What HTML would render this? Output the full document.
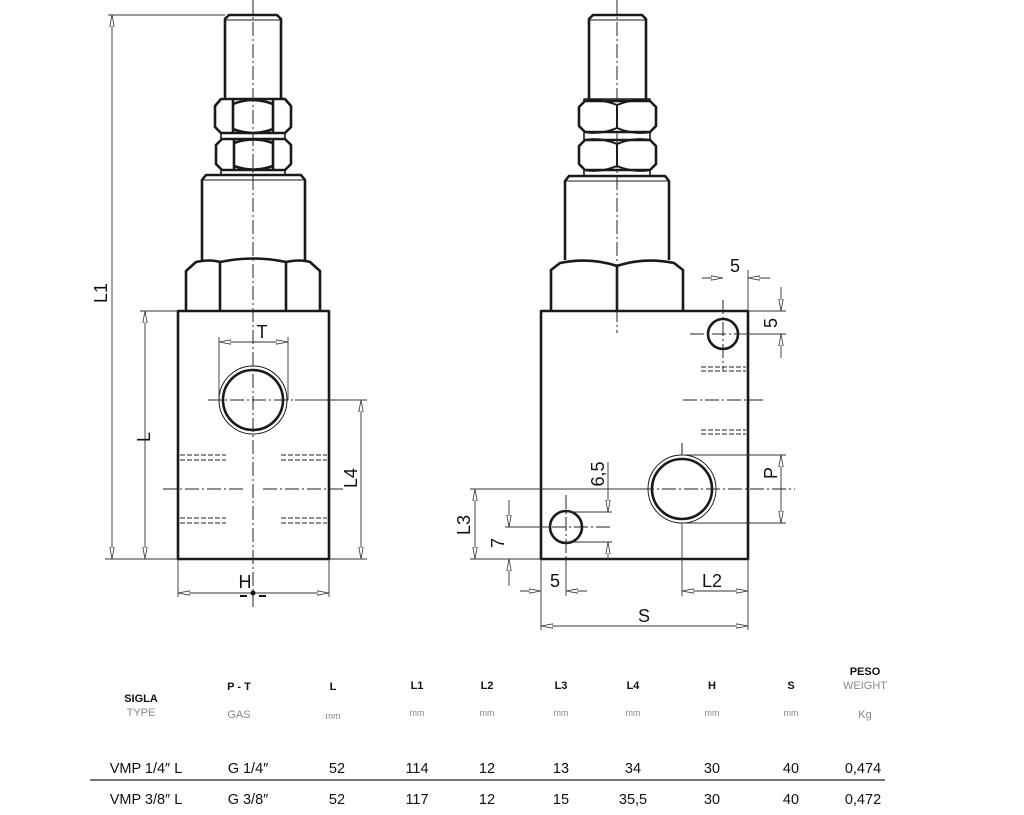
<!DOCTYPE html>
<html><head><meta charset="utf-8"><style>
html,body{margin:0;padding:0;background:#fff;width:1024px;height:815px;overflow:hidden}
svg{display:block}
text{font-family:"Liberation Sans Narrow","Liberation Sans",sans-serif}
</style></head><body>
<svg width="1024" height="815" viewBox="0 0 1024 815" xmlns="http://www.w3.org/2000/svg">
<defs>
<marker id="a" viewBox="0 0 12 6" refX="12" refY="3" markerWidth="12" markerHeight="6" orient="auto-start-reverse" markerUnits="userSpaceOnUse"><path d="M0,0.8 L12,3 L0,5.2 Z" fill="#fff" stroke="#333" stroke-width="0.8"/></marker>
</defs>
<g fill="none" stroke="#1a1a1a" stroke-width="2.6" stroke-linejoin="round">
<!-- LEFT VIEW -->
<path d="M225,99 V19 L229,15 H277 L281,19 V99"/>
<line x1="226" y1="20" x2="280" y2="20" stroke-width="1"/>
<path d="M221,99 H285 L291,106 V127 L285,133 H221 L215,127 V106 Z"/>
<line x1="233" y1="100" x2="233" y2="132"/><line x1="273" y1="100" x2="273" y2="132"/>
<path d="M233,104 Q253,96 273,104 M233,129 Q253,137 273,129"/>
<rect x="221" y="133" width="64" height="6" stroke-width="1.6"/>
<path d="M222,139 H285 L291,145 V164 L285,170 H222 L216,164 V145 Z"/>
<line x1="234" y1="140" x2="234" y2="169"/><line x1="273" y1="140" x2="273" y2="169"/>
<path d="M234,143 Q253,136 273,143 M234,166 Q253,173 273,166"/>
<rect x="221" y="170" width="64" height="5" stroke-width="1.6"/>
<path d="M202,260 V180 L206,175 H301 L305,180 V260"/>
<line x1="203" y1="180" x2="304" y2="180" stroke-width="1"/>
<path d="M186,311 V271 L196,262 Q210,259 220,262 Q253,255 286,262 Q300,259 310,262 L320,271 V311"/>
<line x1="220" y1="262" x2="220" y2="311"/><line x1="286" y1="262" x2="286" y2="311"/>
<rect x="178" y="311" width="151" height="248"/>
<circle cx="253" cy="400" r="30"/>
<circle cx="253" cy="400" r="34" stroke-width="1"/>
<!-- RIGHT VIEW -->
<path d="M589,99 V19 L593,15 H642 L646,19 V99"/>
<line x1="590" y1="20" x2="645" y2="20" stroke-width="1"/>
<rect x="584" y="99" width="66" height="77" stroke-width="1.6"/>
<path d="M585,101 H650 L656,107 V126 L650,132 H585 L579,126 V107 Z" fill="#fff"/>
<path d="M585,101 Q600,98 617,105 Q634,98 650,101 M585,132 Q600,135 617,128 Q634,135 650,132 M617,105 V128" stroke-width="2"/>
<path d="M585,140 H650 L656,146 V164 L650,170 H585 L579,164 V146 Z" fill="#fff"/>
<path d="M585,140 Q600,137 617,144 Q634,137 650,140 M585,170 Q600,173 617,166 Q634,173 650,170 M617,144 V166" stroke-width="2"/>
<path d="M565,260 V181 L569,176 H665 L669,181 V260"/>
<line x1="566" y1="181" x2="668" y2="181" stroke-width="1"/>
<path d="M551,311 V270 L560,263 Q590,257 617,266 Q644,257 674,263 L683,270 V311"/>
<line x1="617" y1="266" x2="617" y2="311"/>
<rect x="541" y="311" width="207" height="248"/>
<circle cx="723" cy="334" r="15"/>
<circle cx="682" cy="489" r="30"/>
<circle cx="682" cy="489" r="34" stroke-width="1"/>
<circle cx="566" cy="527" r="16"/>
</g>
<g stroke="#222" stroke-width="1" stroke-dasharray="14,3,2,3" fill="none">
<line x1="253" y1="0" x2="253" y2="607"/>
<line x1="617" y1="0" x2="617" y2="333"/>
<line x1="208" y1="400" x2="300" y2="400"/>
<line x1="163" y1="489" x2="245" y2="489"/>
<line x1="263" y1="489" x2="344" y2="489"/>
<line x1="723" y1="300" x2="723" y2="370"/>
<line x1="690" y1="334" x2="755" y2="334"/>
<line x1="683" y1="400" x2="765" y2="400"/>
<line x1="566" y1="495" x2="566" y2="565"/>
<line x1="530" y1="527" x2="610" y2="527"/>
<line x1="682" y1="443" x2="682" y2="455"/>
<line x1="640" y1="489" x2="795" y2="489"/>
</g>
<g stroke="#222" stroke-width="1" stroke-dasharray="5,2">
<line x1="180" y1="455" x2="226" y2="455"/><line x1="180" y1="460" x2="226" y2="460"/>
<line x1="281" y1="455" x2="327" y2="455"/><line x1="281" y1="460" x2="327" y2="460"/>
<line x1="180" y1="518" x2="226" y2="518"/><line x1="180" y1="523" x2="226" y2="523"/>
<line x1="281" y1="518" x2="327" y2="518"/><line x1="281" y1="523" x2="327" y2="523"/>
<line x1="701" y1="367" x2="746" y2="367"/><line x1="701" y1="371" x2="746" y2="371"/>
<line x1="701" y1="430" x2="746" y2="430"/><line x1="701" y1="434" x2="746" y2="434"/>
</g>
<g stroke="#333" stroke-width="0.9" fill="none">
<line x1="108" y1="15" x2="225" y2="15"/>
<line x1="105" y1="559" x2="178" y2="559"/>
<line x1="140" y1="311" x2="178" y2="311"/>
<line x1="112" y1="15" x2="112" y2="559" marker-start="url(#a)" marker-end="url(#a)"/>
<line x1="145" y1="311" x2="145" y2="559" marker-start="url(#a)" marker-end="url(#a)"/>
<line x1="219" y1="337" x2="219" y2="400"/><line x1="288" y1="337" x2="288" y2="400"/>
<line x1="219" y1="342" x2="288" y2="342" marker-start="url(#a)" marker-end="url(#a)"/>
<line x1="295" y1="400" x2="367" y2="400"/><line x1="329" y1="559" x2="367" y2="559"/>
<line x1="361" y1="400" x2="361" y2="559" marker-start="url(#a)" marker-end="url(#a)"/>
<line x1="178" y1="559" x2="178" y2="597"/><line x1="329" y1="559" x2="329" y2="597"/>
<line x1="178" y1="593" x2="329" y2="593" marker-start="url(#a)" marker-end="url(#a)"/>
<line x1="748" y1="270" x2="748" y2="311"/>
<line x1="702" y1="278" x2="723" y2="278" marker-end="url(#a)"/>
<line x1="770" y1="278" x2="748" y2="278" marker-end="url(#a)"/>
<line x1="748" y1="311" x2="786" y2="311"/><line x1="740" y1="334" x2="786" y2="334"/>
<line x1="781" y1="287" x2="781" y2="311" marker-end="url(#a)"/>
<line x1="781" y1="358" x2="781" y2="334" marker-end="url(#a)"/>
<line x1="682" y1="455" x2="786" y2="455"/><line x1="682" y1="523" x2="786" y2="523"/>
<line x1="781" y1="455" x2="781" y2="523" marker-start="url(#a)" marker-end="url(#a)"/>
<line x1="470" y1="489" x2="640" y2="489"/><line x1="470" y1="559" x2="541" y2="559"/>
<line x1="475" y1="489" x2="475" y2="559" marker-start="url(#a)" marker-end="url(#a)"/>
<line x1="505" y1="527" x2="550" y2="527"/>
<line x1="509" y1="500" x2="509" y2="527" marker-end="url(#a)"/>
<line x1="509" y1="586" x2="509" y2="559" marker-end="url(#a)"/>
<line x1="566" y1="512" x2="612" y2="512"/><line x1="566" y1="542" x2="612" y2="542"/>
<line x1="608" y1="462" x2="608" y2="512" marker-end="url(#a)"/>
<line x1="608" y1="560" x2="608" y2="542" marker-end="url(#a)"/>
<line x1="541" y1="559" x2="541" y2="630"/><line x1="566" y1="559" x2="566" y2="596"/>
<line x1="520" y1="591" x2="541" y2="591" marker-end="url(#a)"/>
<line x1="587" y1="591" x2="566" y2="591" marker-end="url(#a)"/>
<line x1="682" y1="523" x2="682" y2="596"/><line x1="748" y1="559" x2="748" y2="630"/>
<line x1="682" y1="591" x2="748" y2="591" marker-start="url(#a)" marker-end="url(#a)"/>
<line x1="541" y1="626" x2="748" y2="626" marker-start="url(#a)" marker-end="url(#a)"/>
</g>
<circle cx="253" cy="593" r="2.5" fill="#111"/>
<line x1="240" y1="596" x2="247" y2="596" stroke="#111" stroke-width="2"/>
<line x1="259" y1="596" x2="266" y2="596" stroke="#111" stroke-width="2"/>
<g fill="#111" font-size="18">
<text x="262" y="338" text-anchor="middle">T</text>
<text x="245" y="588" text-anchor="middle">H</text>
<text transform="translate(107,293) rotate(-90)" text-anchor="middle">L1</text>
<text transform="translate(150,437) rotate(-90)" text-anchor="middle">L</text>
<text transform="translate(357,478) rotate(-90)" text-anchor="middle">L4</text>
<text x="735" y="272" text-anchor="middle">5</text>
<text transform="translate(777,323) rotate(-90)" text-anchor="middle">5</text>
<text transform="translate(777,473) rotate(-90)" text-anchor="middle">P</text>
<text transform="translate(470,525) rotate(-90)" text-anchor="middle">L3</text>
<text transform="translate(504,543) rotate(-90)" text-anchor="middle">7</text>
<text transform="translate(604,474) rotate(-90)" text-anchor="middle">6,5</text>
<text x="555" y="587" text-anchor="middle">5</text>
<text x="712" y="587" text-anchor="middle">L2</text>
<text x="644" y="622" text-anchor="middle">S</text>
</g>
<g font-size="11" text-anchor="middle" fill="#111">
<text x="141" y="702" font-weight="bold">SIGLA</text>
<text x="141" y="716" fill="#888">TYPE</text>
<text x="239" y="690" font-weight="bold">P - T</text>
<text x="239" y="718" fill="#888">GAS</text>
<text x="333" y="690" font-weight="bold">L</text>
<text x="417" y="689" font-weight="bold">L1</text>
<text x="487" y="689" font-weight="bold">L2</text>
<text x="561" y="689" font-weight="bold">L3</text>
<text x="633" y="689" font-weight="bold">L4</text>
<text x="712" y="689" font-weight="bold">H</text>
<text x="791" y="689" font-weight="bold">S</text>
<text x="865" y="675" font-weight="bold">PESO</text>
<text x="865" y="689" fill="#888">WEIGHT</text>
<text x="865" y="718" fill="#888">Kg</text>
<g fill="#888" font-size="9"><text x="333" y="719">mm</text><text x="417" y="716">mm</text><text x="487" y="716">mm</text><text x="561" y="716">mm</text><text x="633" y="716">mm</text><text x="712" y="716">mm</text><text x="791" y="716">mm</text></g>
<g font-size="14.5"><text x="146" y="773">VMP 1/4″ L</text><text x="248" y="773">G 1/4″</text><text x="337" y="773">52</text><text x="417" y="773">114</text><text x="487" y="773">12</text><text x="561" y="773">13</text><text x="633" y="773">34</text><text x="712" y="773">30</text><text x="791" y="773">40</text><text x="863" y="773">0,474</text>
<text x="146" y="804">VMP 3/8″ L</text><text x="248" y="804">G 3/8″</text><text x="337" y="804">52</text><text x="417" y="804">117</text><text x="487" y="804">12</text><text x="561" y="804">15</text><text x="633" y="804">35,5</text><text x="712" y="804">30</text><text x="791" y="804">40</text><text x="863" y="804">0,472</text></g>
</g>
<line x1="90" y1="780" x2="885" y2="780" stroke="#222" stroke-width="1.3"/>
</svg>
</body></html>
